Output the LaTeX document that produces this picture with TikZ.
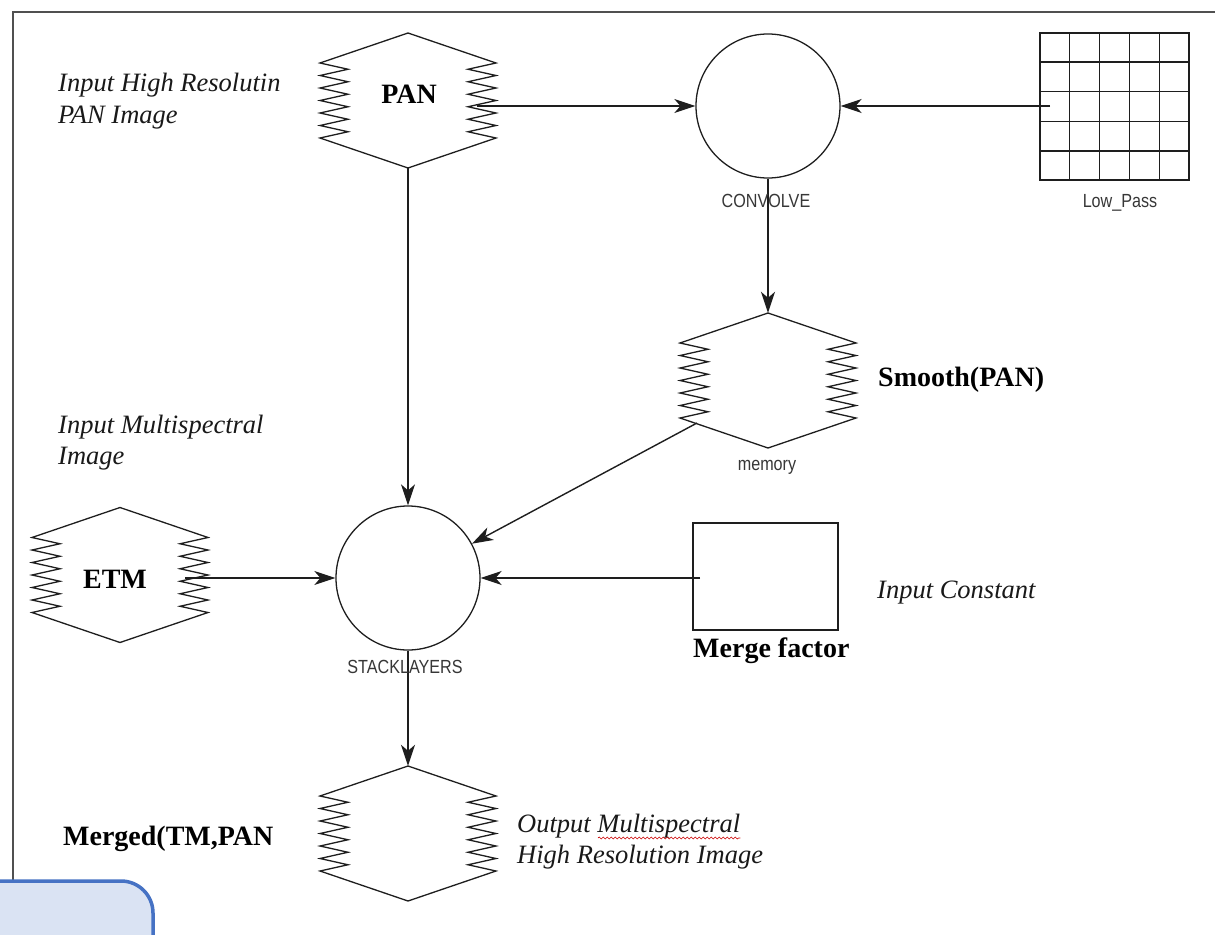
\documentclass[tikz,border=0pt]{standalone}
\usepackage{fontspec}
\setmainfont{Liberation Serif}
\newfontfamily\narrowsans[FakeStretch=0.85]{Liberation Sans}
\usetikzlibrary{arrows.meta,calc,decorations.pathmorphing}
\definecolor{ink}{RGB}{30,30,30}
\definecolor{framegray}{RGB}{80,80,80}
\definecolor{boxfill}{RGB}{218,227,243}
\definecolor{boxedge}{RGB}{70,114,196}
\definecolor{sansgray}{RGB}{55,55,55}
\tikzset{
 flow/.style={draw=ink, line width=1.4pt, -{Stealth[length=21pt,width=14pt,inset=6pt]}},
 shapeline/.style={draw=ink, line width=1.3pt, line join=miter},
 hexnode/.style={rectangle, minimum width=176pt, minimum height=135pt, inner sep=0pt},
 procnode/.style={circle, draw=ink, line width=1.3pt, minimum size=144pt, inner sep=0pt},
 plainbox/.style={rectangle, draw=ink, line width=1.3pt, inner sep=0pt},
 boldlab/.style={font=\bfseries\fontsize{28}{30}\selectfont, inner sep=0pt, text=black},
 itallab/.style={font=\itshape\fontsize{26.5}{31}\selectfont, inner sep=0pt, anchor=base west, text=black!90},
 sanslab/.style={font=\narrowsans\fontsize{19}{22}\selectfont, inner sep=0pt, anchor=base, text=sansgray},
}
\newcommand\drawhex[1]{%
 \begin{scope}[shift={(#1.center)}]
 \draw[shapeline] (0,-67.5) -- (-88,-37.5)
   \foreach \i in {1,...,12}{ -- ({-88+28*mod(\i,2)},{-37.5+6.25*\i}) }
   -- (0,67.5) -- (88,37.5)
   \foreach \i in {1,...,12}{ -- ({88-28*mod(\i,2)},{37.5-6.25*\i}) }
   -- cycle;
 \end{scope}}
\begin{document}
\begin{tikzpicture}[x=1pt,y=-1pt]
\useasboundingbox (0,0) rectangle (1215,934);
\clip (0,0) rectangle (1215,934);
\fill[white] (0,0) rectangle (1215,934);
% frame
\draw[framegray, line width=2pt] (13,890) -- (13,12) -- (1220,12);
% hexagon stores
\node[hexnode] (pan) at (408,100.5) {};
\node[hexnode] (mem) at (768,380.5) {};
\node[hexnode] (etm) at (120,575) {};
\node[hexnode] (out) at (408,833.5) {};
\drawhex{pan}
\drawhex{mem}
\drawhex{etm}
\drawhex{out}
% processes
\node[procnode] (conv) at (768,106) {};
\node[procnode] (stack) at (408,578) {};
% kernel grid
\node[plainbox, minimum width=149pt, minimum height=147pt] (lp) at (1114.5,106.5) {};
\foreach \i in {1,...,4}{
 \draw[ink, line width=1.3pt] ($(lp.north west)!\i/5!(lp.north east)$) -- ($(lp.south west)!\i/5!(lp.south east)$);
 \draw[ink, line width=1.3pt] ($(lp.north west)!\i/5!(lp.south west)$) -- ($(lp.north east)!\i/5!(lp.south east)$);
}
% constant
\node[plainbox, minimum width=145pt, minimum height=107pt] (merge) at (765.5,576.5) {};
% connector ends
\coordinate (panout) at (477,106);
\coordinate (lpout) at (1050,106);
\coordinate (memout) at (697,423);
\coordinate (etmout) at (185,578);
\coordinate (mergeout) at (700,578);
% connectors
\draw[flow] (panout) -- (conv.west);
\draw[flow] (lpout) -- (conv.east);
\draw[flow] (conv.south) -- (mem.north);
\draw[flow] (pan.south) -- (stack.north);
\draw[flow] (memout) -- (stack);
\draw[flow] (etmout) -- (stack.west);
\draw[flow] (mergeout) -- (stack.east);
\draw[flow] (stack.south) -- (out.north);
% labels
\node[boldlab, anchor=base] (pantxt) at (409,103) {PAN};
\node[boldlab, anchor=base] (etmtxt) at (115,588) {ETM};
\node[boldlab, anchor=base west] (smooth) at (878,386) {Smooth(PAN)};
\node[boldlab, anchor=base west] (mergetxt) at (693,657) {Merge factor};
\node[boldlab, anchor=base west] (merged) at (63,845) {Merged(TM,PAN};
\node[itallab] (in1a) at (58,92) {Input High Resolutin};
\node[itallab] (in1b) at (58,123) {PAN Image};
\node[itallab] (in2a) at (58,433) {Input Multispectral};
\node[itallab] (in2b) at (58,464) {Image};
\node[itallab] (const) at (877,598) {Input Constant};
\node[itallab] (out1) at (517,832) {Output Multispectral};
\node[itallab] (out2) at (517,863) {High Resolution Image};
\draw[red!80!black, line width=0.6pt, decorate, decoration={snake, amplitude=1pt, segment length=4pt}] ($(out1.base west)+(81,6)$) -- ($(out1.base east)+(0,6)$);
\node[sanslab] (convtxt) at (766,207) {CONVOLVE};
\node[sanslab] (lptxt) at (1120,207) {Low\_Pass};
\node[sanslab] (memtxt) at (767,470) {memory};
\node[sanslab] (stacktxt) at (405,673) {STACKLAYERS};
% corner callout box
\draw[draw=boxedge, fill=boxfill, line width=3.5pt, rounded corners=32pt] (-30,881) rectangle (153,980);
\end{tikzpicture}
\end{document}
